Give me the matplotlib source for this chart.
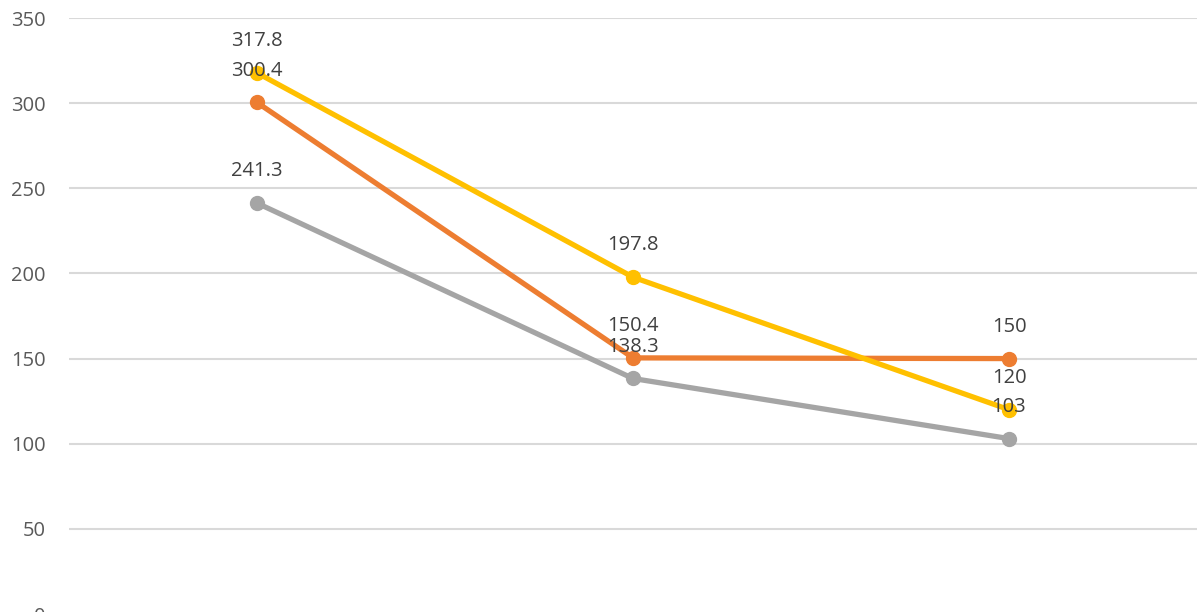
import numpy as np
import matplotlib.pyplot as plt

# data
categories = ['1', '2', '3']
orange_vals = [300.4, 150.4, 150]
gray_vals = [241.3, 138.3, 103]
yellow_vals = [317.8, 197.8, 120]
yticks = [0, 50, 100, 150, 200, 250, 300, 350]

plt.rcParams['font.family'] = ['Open Sans', 'DejaVu Sans']

fig = plt.figure(figsize=(11.98, 6.12), dpi=100)
ax = fig.add_axes([69 / 1198, -2 / 612, 1128 / 1198, 596 / 612])

x = np.arange(len(categories))
series = [
    (orange_vals, '#ED7D31'),
    (gray_vals, '#A5A5A5'),
    (yellow_vals, '#FFC000'),
]
for vals, col in series:
    ax.plot(x, vals, color=col, lw=3.8, marker='o', ms=10,
            solid_capstyle='round', zorder=3)
    for xi, v in zip(x, vals):
        ax.annotate(f'{v:g}', (xi, v), xytext=(0, 23), textcoords='offset points',
                    ha='center', va='center', fontsize=14.5, color='#404040', zorder=4)

ax.set_xlim(-0.5, 2.5)
ax.set_ylim(0, 350)
ax.set_yticks(yticks)
ax.set_xticks([])
ax.grid(axis='y', color='#D9D9D9', lw=1.5)
ax.set_axisbelow(True)
for s in ax.spines.values():
    s.set_visible(False)
ax.tick_params(axis='y', length=0, pad=17, labelsize=14.5, labelcolor='#595959')

fig.savefig('out.png', dpi=100)
